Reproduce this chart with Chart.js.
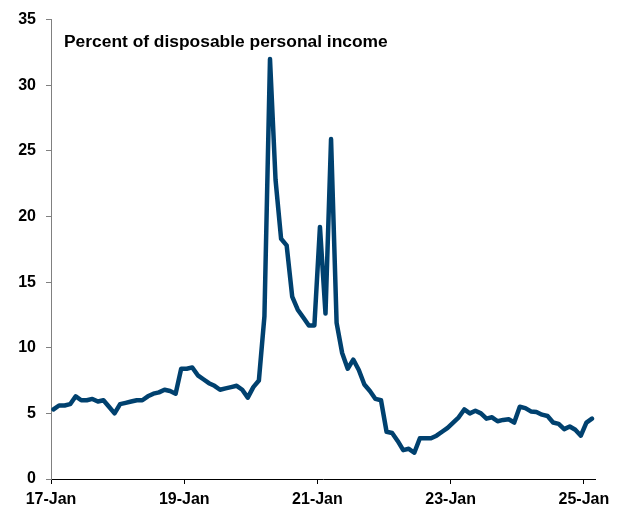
<!DOCTYPE html>
<html>
<head>
<meta charset="utf-8">
<script src="https://cdn.jsdelivr.net/npm/chart.js@4.4.1/dist/chart.umd.min.js"></script>
<style>
  html, body { margin: 0; padding: 0; background: #fff; }
</style>
</head>
<body>
<canvas id="myChart" width="630" height="508"></canvas>
<script>
// personal saving rate, monthly, Jan 2017 .. Feb 2025
const savingRate = [
  5.3, 5.6, 5.6, 5.7, 6.3, 6.0, 6.0, 6.1, 5.9, 6.0, 5.5, 5.0,      // 2017
  5.7, 5.8, 5.9, 6.0, 6.0, 6.3, 6.5, 6.6, 6.8, 6.7, 6.5, 8.4,      // 2018
  8.4, 8.5, 7.9, 7.6, 7.3, 7.1, 6.8, 6.9, 7.0, 7.1, 6.8, 6.2,      // 2019
  7.0, 7.5, 12.4, 32.0, 22.8, 18.3, 17.8, 13.9, 12.9, 12.3, 11.7, 11.7, // 2020
  19.2, 12.6, 25.9, 11.9, 9.6, 8.4, 9.1, 8.3, 7.2, 6.7, 6.1, 6.0,  // 2021
  3.6, 3.5, 2.9, 2.2, 2.3, 2.0, 3.1, 3.1, 3.1, 3.3, 3.6, 3.9,      // 2022
  4.3, 4.7, 5.3, 5.0, 5.2, 5.0, 4.6, 4.7, 4.4, 4.5, 4.55, 4.3,     // 2023
  5.5, 5.4, 5.15, 5.1, 4.9, 4.8, 4.3, 4.2, 3.8, 4.0, 3.75, 3.3,    // 2024
  4.3, 4.6                                                         // 2025
];
const tickLabels = ['17-Jan', '19-Jan', '21-Jan', '23-Jan', '25-Jan'];
const tickMonths = [0, 24, 48, 72, 96];
const yMax = 35;
const yStep = 5;
const chartTitle = 'Percent of disposable personal income';

// monthly points sit a bit after the start of their month on the date axis
const points = savingRate.map((v, i) => ({ x: i + 0.45, y: v }));

const font = { family: 'Liberation Sans, Arial, sans-serif', size: 16, weight: 'bold' };

const titleInside = {
  id: 'titleInside',
  afterDraw(chart) {
    const ctx = chart.ctx;
    const area = chart.chartArea;
    ctx.save();
    ctx.font = 'bold 17.4px Liberation Sans, Arial, sans-serif';
    ctx.fillStyle = '#000';
    ctx.textBaseline = 'middle';
    ctx.fillText(chartTitle, area.left + 13, area.top + 23);
    ctx.restore();
  }
};

new Chart("myChart", {
  type: "line",
  data: {
    datasets: [{
      data: points,
      borderColor: "#00416f",
      borderWidth: 4.5,
      borderJoinStyle: "round",
      borderCapStyle: "round",
      pointRadius: 0,
      tension: 0,
      fill: false
    }]
  },
  options: {
    responsive: false,
    animation: false,
    devicePixelRatio: 1,
    layout: { padding: { left: 0, right: 35, top: 19, bottom: 0 } },
    scales: {
      x: {
        type: 'linear',
        min: 0,
        max: 98,
        afterBuildTicks: scale => { scale.ticks = tickMonths.map(v => ({ value: v })); },
        afterFit: scale => { scale.height = 29; },
        grid: { drawOnChartArea: false, drawTicks: true, tickLength: 5, color: '#000' },
        border: { color: '#000', width: 1 },
        ticks: {
          color: '#000',
          font: font,
          padding: 6,
          maxRotation: 0,
          autoSkip: false,
          callback: function(value) {
            return tickLabels[tickMonths.indexOf(value)];
          }
        }
      },
      y: {
        min: 0,
        max: yMax,
        afterFit: scale => { scale.width = 51; },
        grid: { drawOnChartArea: false, drawTicks: true, tickLength: 5, color: '#808080' },
        border: { color: '#808080', width: 1 },
        ticks: { stepSize: yStep, color: '#000', font: font, padding: 10 }
      }
    },
    plugins: {
      legend: { display: false },
      tooltip: { enabled: false }
    }
  },
  plugins: [titleInside]
});
</script>
</body>
</html>
